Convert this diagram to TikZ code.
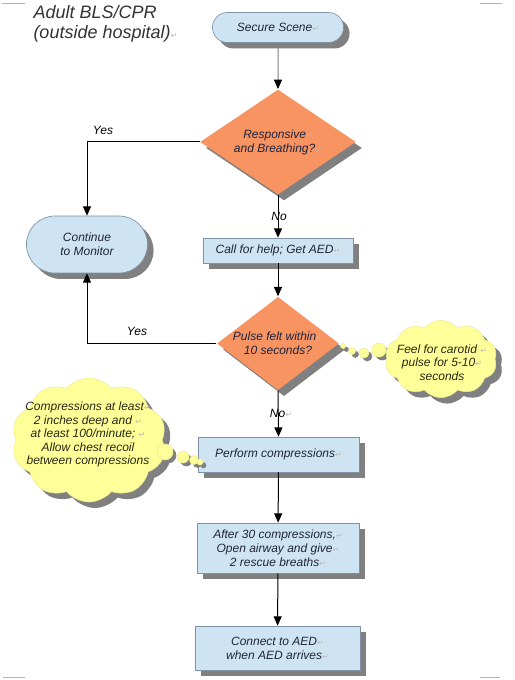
\documentclass[tikz,border=0pt]{standalone}
\usepackage{fontspec}
\setmainfont{Liberation Sans}
\newfontfamily\symfont{DejaVu Sans}
\usetikzlibrary{shapes.geometric,shapes.misc,shapes.symbols,shadows,arrows.meta}

\definecolor{boxblue}{RGB}{207,228,243}
\definecolor{boxedge}{RGB}{128,146,165}
\definecolor{decorange}{RGB}{248,148,98}
\definecolor{cloudyellow}{RGB}{255,255,153}
\definecolor{textnavy}{RGB}{30,36,60}
\definecolor{cloudink}{RGB}{40,40,20}
\definecolor{shadowgray}{RGB}{128,128,128}

\newcommand{\retmark}{{\symfont\fontsize{6}{6}\selectfont\textcolor{gray!55}{↵}}}

\tikzset{every picture/.style={line width=0.75pt}}
\tikzset{
  myshadow/.style={drop shadow={shadow xshift=4.5pt,shadow yshift=-4.5pt,fill=shadowgray,opacity=1}},
  flowtext/.style={font=\fontsize{9}{10.5}\selectfont\itshape,text=textnavy,align=center},
  terminal/.style={rounded rectangle,draw=boxedge,line width=0.5pt,fill=boxblue,myshadow,flowtext},
  process/.style={rectangle,draw=boxedge,line width=0.5pt,fill=boxblue,myshadow,flowtext},
  decision/.style={diamond,fill=decorange,myshadow,flowtext,inner sep=0pt},
  thought/.style={cloud,cloud puffs=10,cloud puff arc=100,cloud ignores aspect,fill=cloudyellow,draw=cloudyellow!85!gray,line width=0.4pt,myshadow},
  bubble/.style={fill=cloudyellow,draw=cloudyellow!85!gray,line width=0.4pt,drop shadow={shadow xshift=2.5pt,shadow yshift=-2.5pt,fill=shadowgray,opacity=1}},
  cloudtext/.style={font=\fontsize{9}{10.2}\selectfont\itshape,text=cloudink,align=center},
  flowarrow/.style={-{Triangle[length=7pt,width=6pt,color=black]},black},
  answer/.style={font=\fontsize{9}{10.5}\selectfont\itshape,text=black}
}

\begin{document}
\begin{tikzpicture}[x=0.75pt,y=0.75pt,yscale=-1,xscale=1]
	\useasboundingbox (0,0) rectangle (514,680);

	% page corner marks
	\draw [gray!60,line width=0.5pt] (2,3) -- (25,3) (480,3) -- (502,3) (3,677) -- (25,677) (480,677) -- (500,677);

	% Title
	\node [anchor=north west,align=left,inner sep=0pt,font=\fontsize{13.5}{15}\selectfont\itshape,text=black!80] (title) at (33,5) {Adult BLS/CPR\\(outside hospital)\retmark};

	% Flow nodes
	\node [terminal,minimum width=105pt,minimum height=22.5pt] (secure) at (278,27.5) {Secure Scene\retmark};
	\node [decision,shape aspect=1.5,minimum width=117pt,minimum height=78.75pt] (resp) at (278,142) {Responsive\retmark\\and Breathing?\retmark};
	\node [terminal,minimum width=97.5pt,minimum height=42.75pt] (monitor) at (87,244.5) {Continue\\to Monitor};
	\node [process,minimum width=112.5pt,minimum height=18.75pt] (help) at (278,250.5) {Call for help; Get AED\retmark};
	\node [decision,shape aspect=1.4,minimum width=90pt,minimum height=70pt] (pulse) at (278,343.5) {Pulse felt within\retmark\\10 seconds?};
	\node [process,minimum width=120.75pt,minimum height=26.25pt] (compress) at (278.5,454.5) {Perform compressions\retmark};
	\node [process,minimum width=121.5pt,minimum height=37.5pt] (breaths) at (278,548) {After 30 compressions,\retmark\\Open airway and give\retmark\\2 rescue breaths\retmark};
	\node [process,minimum width=123.75pt,minimum height=33pt] (aed) at (277.5,648) {Connect to AED\retmark\\when AED arrives\retmark};

	% Thought clouds
	\foreach \bx/\by/\br in {343/346/2.5,352/351/3.5,364/353/5,379/350/7}
		\path [bubble] (\bx,\by) circle [radius=\br];
	\node [thought,minimum width=84pt,minimum height=58pt] (carotidcloud) at (441,359) {};
	\node [cloudtext] (carotid) at (442,362.5) {Feel for carotid \retmark\\pulse for 5-10\retmark\\seconds};

	\node [thought,minimum width=116pt,minimum height=93pt] (depthcloud) at (89,440) {};
	\foreach \bx/\by/\br in {165/452/8,183/457/6,194/460/4.5,200/462/3}
		\path [bubble] (\bx,\by) circle [radius=\br];
	\node [cloudtext] (depth) at (88,434.5) {Compressions at least\retmark\\2 inches deep and \retmark\\at least 100/minute; \retmark\\Allow chest recoil\\between compressions};

	% Connectors
	\draw [flowarrow,draw=gray] (secure) -- (resp);
	\draw [flowarrow] (resp.west) -| (monitor.north);
	\draw [flowarrow] (resp.south) -- (help.north);
	\draw [flowarrow] (help) -- (pulse);
	\draw [flowarrow] (pulse.west) -| (monitor.south);
	\draw [flowarrow] (pulse.south) -- (compress.north);
	\draw [flowarrow] (compress) -- (breaths);
	\draw [flowarrow] (breaths) -- (aed);

	% Answer labels
	\node [answer] (yes1) at (103,130) {Yes};
	\node [answer] (no1) at (279,216) {No};
	\node [answer] (yes2) at (137,331) {Yes};
	\node [answer] (no2) at (281,413) {No\retmark};

\end{tikzpicture}
\end{document}
